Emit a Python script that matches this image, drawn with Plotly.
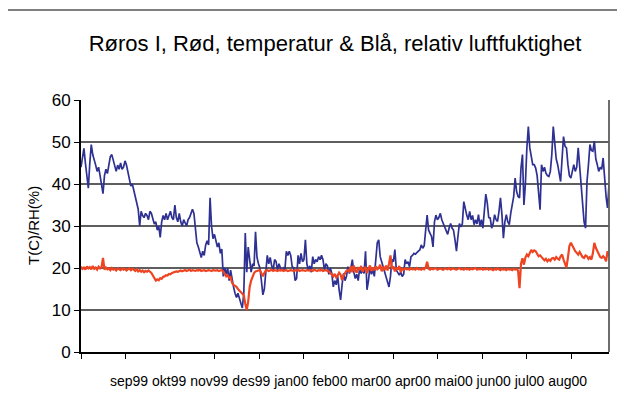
import plotly.graph_objects as go

title_text = "Røros I, Rød, temperatur & Blå, relativ luftfuktighet"
y_title = "T(C)/RH(%)"
month_labels = ["sep99", "okt99", "nov99", "des99", "jan00", "feb00",
                "mar00", "apr00", "mai00", "jun00", "jul00", "aug00"]
days_per_month = 30.4
y_ticks = [0, 10, 20, 30, 40, 50, 60]

# daily relative humidity (%), from 1 Sep 1999
rh_blue = [
    44.0, 47.0, 48.5, 45.0, 42.6, 39.0, 45.0, 49.4, 47.0, 46.0,
    44.5, 43.0, 44.0, 42.0, 40.0, 37.7, 42.0, 43.5, 42.5, 44.5,
    46.5, 47.0, 45.5, 44.5, 43.0, 44.5, 43.5, 45.0, 43.5, 44.0,
    45.5, 44.5, 42.5, 41.0, 39.5, 40.0, 38.5, 37.0, 35.5, 34.0,
    30.0, 33.5, 32.5, 32.0, 33.0, 32.5, 31.5, 33.5, 33.0, 32.0,
    30.5, 31.0, 29.0, 30.0, 27.3, 31.0, 32.5, 31.5, 33.0, 31.5,
    32.5, 33.5, 32.0, 31.5, 35.0, 32.0, 31.0, 33.0, 31.0, 30.0,
    31.5, 30.5, 30.0, 31.5, 32.0, 33.0, 34.0, 33.0, 29.0, 26.0,
    25.0, 23.5, 22.5, 24.0, 23.0, 25.5, 26.5, 25.5, 36.7, 30.0,
    27.0, 28.0, 26.5, 25.0, 26.0, 23.5, 24.5, 18.0, 20.0, 18.5,
    20.0, 17.0, 19.5, 17.0, 15.5, 14.0, 13.0, 14.0, 12.4, 11.6,
    10.5, 14.0, 28.3, 19.0, 25.0, 22.5, 19.0, 21.0, 20.5, 28.6,
    22.5, 21.0, 20.0, 17.0, 13.6, 15.0, 19.0, 23.0, 21.0, 22.5,
    20.5, 19.5, 22.0, 21.5, 19.5, 21.0, 20.0, 19.5, 20.0, 19.5,
    24.0, 23.0, 24.0, 23.0, 20.3, 20.0, 17.0, 17.5, 23.0, 21.0,
    23.5, 21.5, 22.0, 26.7, 21.0, 19.5, 20.5, 19.0, 22.7, 21.0,
    22.0, 21.5, 22.7, 22.0, 23.0, 22.0, 19.5, 21.0, 20.5, 18.5,
    20.0, 18.7, 15.5, 17.0, 16.0, 18.0, 14.8, 12.4, 16.0, 18.7,
    17.0, 18.0, 20.3, 18.7, 20.0, 22.0, 19.0, 17.5, 18.5, 17.0,
    20.0, 18.7, 19.5, 18.7, 24.0, 14.8, 17.0, 20.3, 18.5, 19.5,
    18.0, 23.0, 26.0, 26.7, 22.7, 21.5, 20.3, 18.7, 17.5, 16.3,
    15.5, 18.0, 22.0, 21.5, 24.4, 19.5, 18.8, 18.3, 19.0, 18.0,
    18.5, 22.0, 21.0, 21.5, 20.3, 22.7, 23.0, 23.5, 23.3, 23.8,
    24.0, 24.3, 25.5, 24.7, 25.3, 29.0, 32.6, 29.0, 28.0, 27.5,
    25.0, 31.0, 32.6, 31.5, 32.0, 33.0, 31.5, 30.6, 29.8, 29.0,
    28.0, 29.5, 30.6, 29.5, 29.0, 26.7, 24.0, 27.5, 30.6, 29.8,
    30.5, 35.8, 33.8, 32.6, 31.5, 33.5, 31.5, 32.5, 30.3, 31.5,
    30.5, 32.7, 30.0, 31.5, 29.5, 33.0, 37.6, 35.5, 32.0, 31.9,
    29.5, 30.5, 32.7, 31.5, 31.1, 33.5, 36.7, 32.7, 27.1, 31.0,
    32.7, 31.0, 30.3, 33.0, 35.0, 37.0, 41.4, 38.2, 37.0, 36.7,
    43.8, 47.0, 35.0, 40.0, 48.6, 53.7, 48.6, 46.0, 44.6, 44.6,
    43.8, 42.0, 37.5, 33.9, 44.6, 43.0, 44.0, 42.6, 42.0, 41.8,
    43.0, 47.0, 53.7, 48.6, 46.0, 44.6, 42.0, 40.6, 46.0, 51.3,
    49.0, 48.6, 44.6, 42.0, 41.4, 43.5, 44.6, 43.0, 44.0, 48.6,
    44.6, 40.6, 35.0, 31.0, 29.5, 40.6, 44.6, 49.4, 48.0, 47.8,
    50.2, 46.0, 44.6, 43.0, 44.0, 43.5, 46.2, 40.6, 37.0, 34.3,
    39.8,
]

# daily temperature (C), from 1 Sep 1999
temp_red = [
    20.3, 19.8, 20.1, 19.6, 20.4, 19.9, 20.2, 19.7, 20.5, 19.8,
    20.1, 19.6, 20.3, 19.9, 20.2, 22.4, 19.6, 20.1, 19.7, 19.9,
    19.5, 20.0, 19.6, 19.8, 19.4, 19.9, 19.7, 19.5, 19.9, 19.6,
    19.8, 19.4, 19.7, 19.9, 19.5, 19.8, 19.6, 19.3, 19.7, 19.2,
    19.5, 19.1, 19.4, 19.0, 19.3, 19.1, 19.4, 19.2, 18.8, 18.2,
    17.5, 17.0, 17.3, 17.1, 17.6, 17.4, 17.9, 18.0, 18.3, 18.2,
    18.6, 18.5, 18.8, 18.9, 19.0, 19.2, 19.1, 19.3, 19.4, 19.2,
    19.4, 19.5, 19.3, 19.4, 19.6, 19.3, 19.5, 19.4, 19.3, 19.5,
    19.4, 19.6, 19.3, 19.4, 19.5, 19.3, 19.4, 19.5, 19.4, 19.3,
    19.5, 19.4, 19.4, 19.5, 19.3, 19.4, 19.5, 19.2, 18.5, 18.0,
    18.3, 17.6, 17.8, 16.5, 16.0, 15.8, 15.5, 15.0, 14.6, 14.2,
    13.8, 13.5, 11.5, 10.0, 12.0, 15.5, 17.0, 18.0, 18.8, 19.2,
    19.4, 19.4, 19.5, 18.6, 18.0, 18.8, 19.4, 19.5, 19.3, 19.4,
    19.6, 19.3, 19.5, 19.4, 19.3, 19.5, 19.4, 19.6, 19.3, 19.4,
    19.5, 19.3, 19.4, 19.5, 19.4, 19.3, 19.5, 19.4, 19.6, 19.3,
    19.4, 19.5, 19.4, 19.3, 19.5, 19.4, 19.4, 19.5, 19.3, 19.6,
    19.4, 19.3, 19.5, 19.4, 19.6, 19.3, 19.4, 19.5, 19.3, 19.2,
    18.8, 18.5, 18.0, 18.6, 17.8, 18.2, 18.9, 18.4, 17.1, 18.2,
    18.8, 19.3, 19.5, 19.2, 20.4, 19.0, 20.6, 19.4, 18.9, 20.2,
    19.5, 20.5, 19.1, 19.8, 20.3, 18.8, 19.9, 20.6, 19.3, 20.1,
    19.5, 20.4, 19.7, 20.0, 20.8, 19.2, 20.3, 19.5, 20.6, 19.4,
    21.0, 23.0, 19.8, 20.4, 19.2, 20.1, 19.6, 20.5, 19.0, 19.8,
    19.6, 19.9, 19.7, 19.8, 19.6, 19.9, 19.7, 19.8, 19.6, 20.0,
    19.7, 19.8, 19.6, 19.9, 19.7, 20.1, 21.5, 19.8, 19.6, 19.9,
    19.7, 19.8, 20.0, 19.6, 19.8, 19.9, 19.7, 19.6, 19.9, 19.8,
    19.7, 20.0, 19.6, 19.8, 19.9, 19.7, 19.6, 19.8, 20.0, 19.7,
    19.8, 19.6, 19.9, 19.7, 19.8, 19.6, 19.9, 19.7, 19.8, 20.0,
    19.6, 19.8, 19.7, 19.9, 19.6, 19.8, 19.7, 19.9, 19.6, 19.8,
    19.7, 19.5, 19.8, 19.6, 19.9, 19.7, 19.5, 19.8, 19.6, 19.7,
    19.5, 19.8, 19.6, 19.7, 19.5, 19.8, 19.6, 19.7, 19.4, 15.2,
    21.0, 22.3, 20.8, 22.5, 23.2, 22.8, 23.4, 24.3, 23.8, 24.2,
    24.0, 23.2, 22.8, 23.0, 22.6, 22.4, 21.8, 22.2, 21.6, 22.0,
    21.7, 22.3, 22.4, 22.0, 22.6, 22.2, 22.0, 22.8, 23.2, 22.0,
    20.8, 20.1, 22.5, 25.2, 26.0, 25.2, 24.4, 24.0, 23.6, 23.2,
    23.8, 23.2, 22.6, 22.4, 23.0, 22.8, 22.2, 22.6, 22.0, 23.5,
    26.0, 24.8, 24.0, 23.2, 22.6, 22.4, 22.8, 22.4, 21.6, 24.0,
    22.8,
]

FONT = "Liberation Sans, Arial, Helvetica, sans-serif"

# the page body adds an 8 px offset; figure is sized so the plot area lands
# at x 81..609, y 100..352 of the window
W, H = 617, 393
OFF = 8

fig = go.Figure()
fig.add_trace(go.Scatter(x=list(range(len(rh_blue))), y=rh_blue, mode="lines",
                         line=dict(color="#2E3192", width=1.7), showlegend=False))
fig.add_trace(go.Scatter(x=list(range(len(temp_red))), y=temp_red, mode="lines",
                         line=dict(color="#EE4422", width=2.2), showlegend=False))

n_days = 360
fig.update_layout(
    width=W, height=H,
    margin=dict(l=81 - OFF, r=W - (609 - OFF), t=100 - OFF, b=H - (352 - OFF)),
    paper_bgcolor="white", plot_bgcolor="white",
    font=dict(family=FONT, color="black"),
    title=dict(text=title_text, font=dict(size=22, family=FONT, color="black"),
               x=(335 - OFF) / W, xanchor="center", xref="container",
               y=1 - (43 - OFF) / H, yanchor="middle", yref="container"),
    xaxis=dict(range=[0, n_days], tick0=0, dtick=days_per_month,
               showticklabels=False, ticks="outside", ticklen=5,
               tickcolor="black", tickwidth=1.3, showgrid=False,
               showline=True, linecolor="black", linewidth=2, zeroline=False),
    yaxis=dict(range=[0, 60], tickvals=y_ticks, ticks="outside", ticklen=5,
               tickcolor="black", tickwidth=1.3,
               tickfont=dict(size=17, family=FONT, color="black"),
               showgrid=True, gridcolor="#5e5e5e", gridwidth=1.8,
               showline=True, linecolor="black", linewidth=2, zeroline=False),
)

# right border of plot area
fig.add_shape(type="line", xref="paper", yref="paper", x0=1, x1=1, y0=0, y1=1,
              line=dict(color="#5e5e5e", width=1.8))
# outer chart frame
fig.add_shape(type="rect", xref="paper", yref="paper",
              x0=(7 - 81) / 528, x1=(640 - 81) / 528,
              y0=(352 - 420) / 252, y1=(352 - 10) / 252,
              line=dict(color="black", width=1.2), fillcolor="rgba(0,0,0,0)")

fig.add_annotation(text=y_title, textangle=-90, showarrow=False,
                   xref="paper", yref="paper", x=(33 - 81) / 528, y=0.5,
                   xanchor="center", yanchor="middle",
                   font=dict(size=15, family=FONT, color="black"))
fig.add_annotation(text=" ".join(month_labels), showarrow=False,
                   xref="paper", yref="paper", x=(348 - 81) / 528,
                   y=(352 - 381) / 252, xanchor="center", yanchor="middle",
                   font=dict(size=14, family=FONT, color="black"))

fig.write_html("out.html")
